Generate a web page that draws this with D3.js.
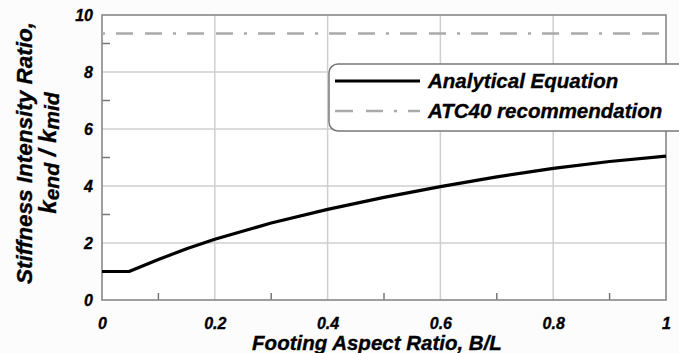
<!DOCTYPE html>
<html>
<head>
<meta charset="utf-8">
<script src="https://cdn.jsdelivr.net/npm/d3@7"></script>
<style>
  html, body { margin: 0; padding: 0; background: #fcfcfc; }
  svg { display: block; }
  text { font-family: "Liberation Sans", Arial, sans-serif; font-weight: bold; font-style: italic; fill: #000; stroke: #000; stroke-width: 0.35px; }
</style>
</head>
<body>
<svg id="chart" width="679" height="353"></svg>
<script>
// Footing aspect ratio B/L and the stiffness intensity ratio from the analytical equation
const aspectRatio = [0, 0.048, 0.1, 0.15, 0.2, 0.3, 0.4, 0.5, 0.6, 0.7, 0.8, 0.9, 1.0];
const stiffnessRatio = [1, 1, 1.42, 1.80, 2.13, 2.70, 3.18, 3.60, 3.98, 4.32, 4.62, 4.86, 5.05];
// ATC40 recommended constant ratio
const atc40Value = 9.35;

const xTicks = [0, 0.2, 0.4, 0.6, 0.8, 1];
const xTickLabels = ["0", "0.2", "0.4", "0.6", "0.8", "1"];
const xMinorTicks = [0.1, 0.3, 0.5, 0.7, 0.9];
const yTicks = [0, 2, 4, 6, 8, 10];
const yTickLabels = ["0", "2", "4", "6", "8", "10"];
const yMinorTicks = [1, 3, 5, 7, 9];
const legendLabels = ["Analytical Equation", "ATC40 recommendation"];

const svg = d3.select("#chart");
const plotLeft = 102, plotRight = 666, plotTop = 15, plotBottom = 300;

const x = d3.scaleLinear().domain([0, 1]).range([plotLeft, plotRight]);
const y = d3.scaleLinear().domain([0, 10]).range([plotBottom, plotTop]);

// plot background
svg.append("rect").attr("x", plotLeft).attr("y", plotTop)
  .attr("width", plotRight - plotLeft).attr("height", plotBottom - plotTop).attr("fill", "#fff");

// grid lines
svg.append("g").selectAll("line").data(xTicks.slice(1, -1)).join("line")
  .attr("x1", d => x(d)).attr("x2", d => x(d)).attr("y1", plotTop).attr("y2", plotBottom)
  .attr("stroke", "#cfcfcf").attr("stroke-width", 1.5);
svg.append("g").selectAll("line").data(yTicks.slice(1, -1)).join("line")
  .attr("y1", d => y(d)).attr("y2", d => y(d)).attr("x1", plotLeft).attr("x2", plotRight)
  .attr("stroke", "#cfcfcf").attr("stroke-width", 1.5);

// minor ticks pointing inward
svg.append("g").selectAll("line").data(xMinorTicks).join("line")
  .attr("x1", d => x(d)).attr("x2", d => x(d)).attr("y1", plotBottom).attr("y2", plotBottom - 7)
  .attr("stroke", "#777").attr("stroke-width", 1.5);
svg.append("g").selectAll("line").data(yMinorTicks).join("line")
  .attr("y1", d => y(d)).attr("y2", d => y(d)).attr("x1", plotLeft).attr("x2", plotLeft + 8)
  .attr("stroke", "#777").attr("stroke-width", 1.5);

// plot frame
svg.append("rect").attr("x", plotLeft).attr("y", plotTop)
  .attr("width", plotRight - plotLeft).attr("height", plotBottom - plotTop)
  .attr("fill", "none").attr("stroke", "#888").attr("stroke-width", 1.6);

// axes tick labels
const xAxis = d3.axisBottom(x).tickValues(xTicks)
  .tickFormat((d, i) => xTickLabels[i]).tickSize(0).tickPadding(18);
const gx = svg.append("g").attr("transform", `translate(0,${plotBottom})`).call(xAxis);
gx.select(".domain").remove();
gx.attr("font-family", null).attr("font-size", null);
gx.selectAll("text").attr("font-size", 16);

const yAxis = d3.axisLeft(y).tickValues(yTicks)
  .tickFormat((d, i) => yTickLabels[i]).tickSize(0).tickPadding(9);
const gy = svg.append("g").attr("transform", `translate(${plotLeft},0)`).call(yAxis);
gy.select(".domain").remove();
gy.attr("font-family", null).attr("font-size", null);
gy.selectAll("text").attr("font-size", 16);

// ATC40 line
svg.append("line")
  .attr("x1", x(0)).attr("x2", x(1)).attr("y1", y(atc40Value)).attr("y2", y(atc40Value))
  .attr("stroke", "#aaa").attr("stroke-width", 2.5)
  .attr("stroke-dasharray", "17,12,17,11,3,11").attr("stroke-dashoffset", -14);

// analytical curve
const line = d3.line().x((d, i) => x(aspectRatio[i])).y(d => y(d)).curve(d3.curveLinear);
svg.append("path").datum(stiffnessRatio)
  .attr("d", line).attr("fill", "none")
  .attr("stroke", "#000").attr("stroke-width", 3.2).attr("stroke-linejoin", "round");

// legend
const lg = svg.append("g");
lg.append("rect").attr("x", 329).attr("y", 64).attr("width", 370).attr("height", 67)
  .attr("rx", 9).attr("fill", "#fff").attr("stroke", "#777").attr("stroke-width", 1.5);
lg.append("line").attr("x1", 335).attr("x2", 420).attr("y1", 81).attr("y2", 81)
  .attr("stroke", "#000").attr("stroke-width", 3.2);
lg.append("line").attr("x1", 335).attr("x2", 420).attr("y1", 111).attr("y2", 111)
  .attr("stroke", "#aaa").attr("stroke-width", 2.5).attr("stroke-dasharray", "18,13,17,11,3,11");
lg.selectAll("text.lab").data(legendLabels).join("text").attr("class", "lab")
  .attr("x", 428).attr("y", (d, i) => 88 + i * 30)
  .attr("font-size", 20.5).text(d => d);

// axis titles
svg.append("text").attr("x", 377).attr("y", 350).attr("text-anchor", "middle")
  .attr("font-size", 20.5).text("Footing Aspect Ratio, B/L");

const yt = svg.append("g").attr("transform", "translate(0,153) rotate(-90)");
yt.append("text").attr("x", 0).attr("y", 32).attr("text-anchor", "middle")
  .attr("font-size", 22.5).text("Stiffness Intensity Ratio,");
const t2 = yt.append("text").attr("x", 0).attr("y", 56).attr("text-anchor", "middle")
  .attr("font-size", 24);
t2.append("tspan").text("k");
t2.append("tspan").attr("font-size", 21).attr("dy", 3).text("end");
t2.append("tspan").attr("dy", -3).text(" / k");
t2.append("tspan").attr("font-size", 21).attr("dy", 3).text("mid");
</script>
</body>
</html>
